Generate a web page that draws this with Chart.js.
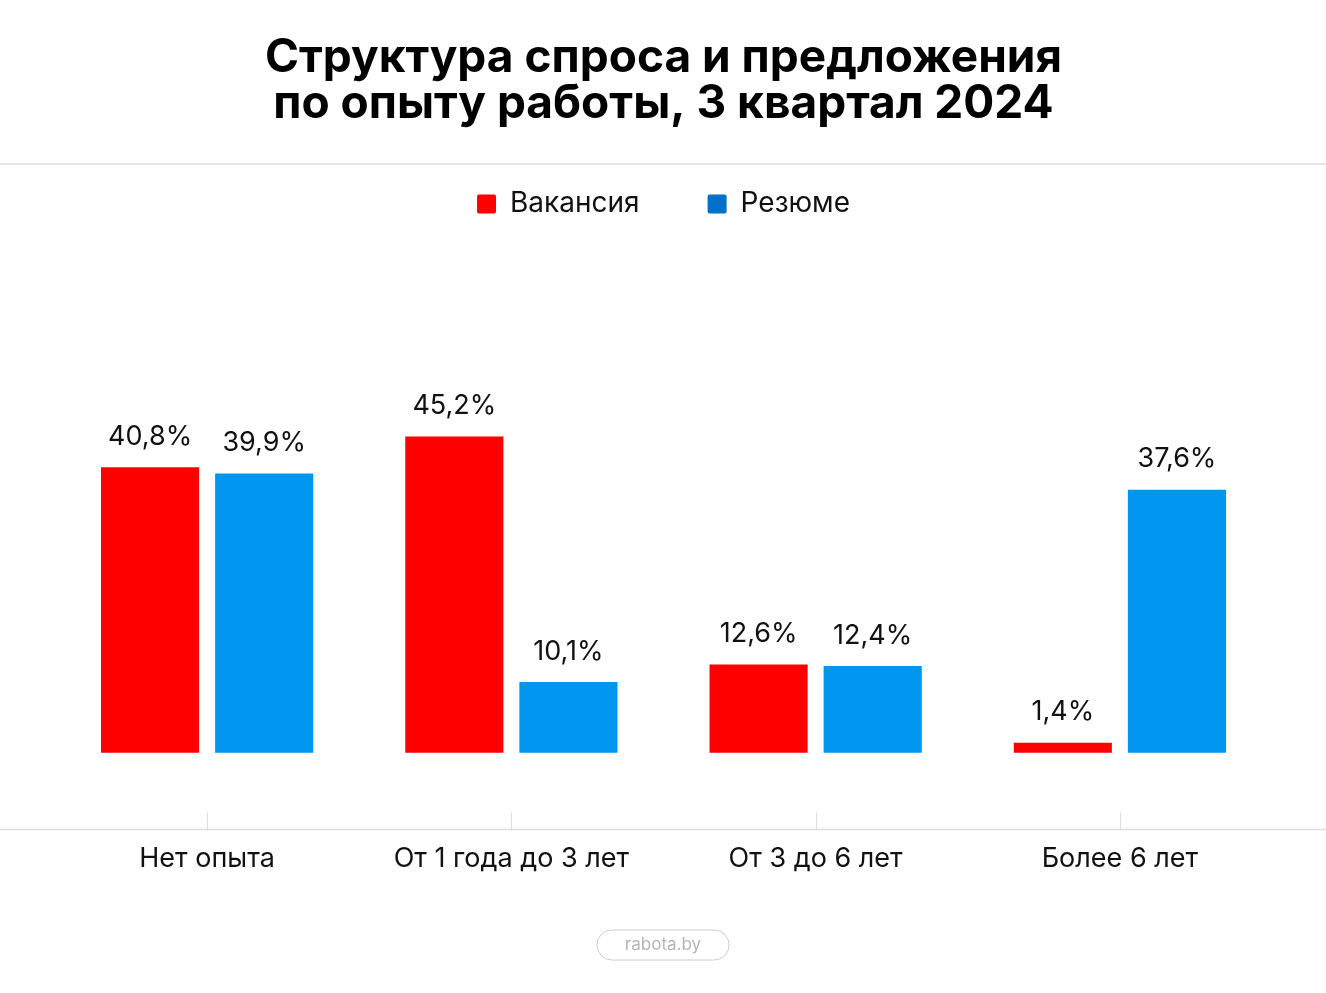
<!DOCTYPE html>
<html lang="ru">
<head>
    <meta charset="UTF-8">
    <title>Структура спроса и предложения</title>
    <style>
        html, body { margin: 0; padding: 0; background: #ffffff; }
        .container { width: 1326px; height: 993px; position: relative; }
    </style>
</head>
<body>
    <div class="container">
        <canvas id="expChart"></canvas>
    </div>

    <script src="https://cdn.jsdelivr.net/npm/chart.js"></script>
    <script>
        const categories = ['Нет опыта', 'От 1 года до 3 лет', 'От 3 до 6 лет', 'Более 6 лет'];
        const seriesNames = ['Вакансия', 'Резюме'];
        const vacancies = [40.8, 45.2, 12.6, 1.4];
        const resumes = [39.9, 10.1, 12.4, 37.6];
        const barColors = ['#ff0000', '#0095ee'];
        const legendColors = ['#ff0000', '#0070c9'];
        const titleLines = ['Структура спроса и предложения', 'по опыту работы, 3 квартал 2024'];
        const watermark = 'rabota.by';

        const FONT = "Inter, 'Noto Sans', sans-serif";
        const LINE = '#dddddd';

        // value labels above each bar, with comma decimals
        const valueLabels = {
            id: 'valueLabels',
            afterDatasetsDraw(chart) {
                const ctx = chart.ctx;
                ctx.save();
                ctx.font = '27px ' + FONT;
                ctx.fillStyle = '#111111';
                ctx.textAlign = 'center';
                ctx.textBaseline = 'bottom';
                chart.data.datasets.forEach((ds, i) => {
                    chart.getDatasetMeta(i).data.forEach((bar, j) => {
                        const txt = ds.data[j].toFixed(1).replace('.', ',') + '%';
                        ctx.fillText(txt, bar.x, bar.y - 17);
                    });
                });
                ctx.restore();
            }
        };

        // separators, axis line, tick marks and the watermark pill
        const decorations = {
            id: 'decorations',
            afterDraw(chart) {
                const ctx = chart.ctx;
                const w = chart.width;
                const area = chart.chartArea;
                const x = chart.scales.x;
                ctx.save();
                ctx.strokeStyle = LINE;
                ctx.lineWidth = 1.5;

                const sepY = chart.titleBlock.bottom + 42;
                ctx.beginPath();
                ctx.moveTo(0, sepY);
                ctx.lineTo(w, sepY);
                ctx.stroke();

                ctx.beginPath();
                ctx.moveTo(0, area.bottom);
                ctx.lineTo(w, area.bottom);
                ctx.stroke();

                ctx.lineWidth = 1;
                categories.forEach((c, i) => {
                    const px = Math.round(x.getPixelForValue(i)) + 0.5;
                    ctx.beginPath();
                    ctx.moveTo(px, area.bottom - 17);
                    ctx.lineTo(px, area.bottom);
                    ctx.stroke();
                });

                // watermark
                const cx = w / 2, cy = 945;
                ctx.font = '17px ' + FONT;
                const tw = ctx.measureText(watermark).width;
                const pw = tw + 56, ph = 30;
                ctx.strokeStyle = '#cccccc';
                ctx.lineWidth = 1;
                ctx.beginPath();
                ctx.roundRect(cx - pw / 2, cy - ph / 2, pw, ph, ph / 2);
                ctx.stroke();
                ctx.fillStyle = '#b5b5b5';
                ctx.textAlign = 'center';
                ctx.textBaseline = 'middle';
                ctx.fillText(watermark, cx, cy);
                ctx.restore();
            }
        };

        const data = {
            labels: categories,
            datasets: [
                { label: seriesNames[0], data: vacancies, backgroundColor: barColors[0] },
                { label: seriesNames[1], data: resumes, backgroundColor: barColors[1] }
            ]
        };

        const config = {
            type: 'bar',
            data: data,
            options: {
                responsive: true,
                maintainAspectRatio: false,
                animation: false,
                categoryPercentage: 0.75,
                barPercentage: 0.86,
                layout: {
                    padding: { left: 55, right: 54, top: 0, bottom: 113 }
                },
                plugins: {
                    title: {
                        display: true,
                        text: titleLines,
                        color: '#000000',
                        font: { family: FONT, size: 46, weight: '700', lineHeight: 1.0 },
                        padding: { top: 35, bottom: -5 }
                    },
                    legend: {
                        display: true,
                        position: 'top',
                        labels: {
                            color: '#111111',
                            font: { family: FONT, size: 28 },
                            boxWidth: 19,
                            boxHeight: 19,
                            padding: 68,
                            useBorderRadius: true,
                            borderRadius: 2,
                            generateLabels(chart) {
                                return chart.data.datasets.map((ds, i) => ({
                                    text: ds.label,
                                    fillStyle: legendColors[i],
                                    strokeStyle: legendColors[i],
                                    lineWidth: 0,
                                    borderRadius: 2,
                                    fontColor: '#111111',
                                    datasetIndex: i
                                }));
                            }
                        }
                    },
                    tooltip: { enabled: false }
                },
                scales: {
                    x: {
                        grid: { display: false },
                        border: { display: false },
                        ticks: {
                            color: '#111111',
                            font: { family: FONT, size: 27 },
                            padding: 5
                        }
                    },
                    y: {
                        display: false,
                        min: -11,
                        max: 75
                    }
                }
            },
            plugins: [valueLabels, decorations]
        };

        const ctx = document.getElementById('expChart').getContext('2d');
        new Chart(ctx, config);
    </script>
</body>
</html>
